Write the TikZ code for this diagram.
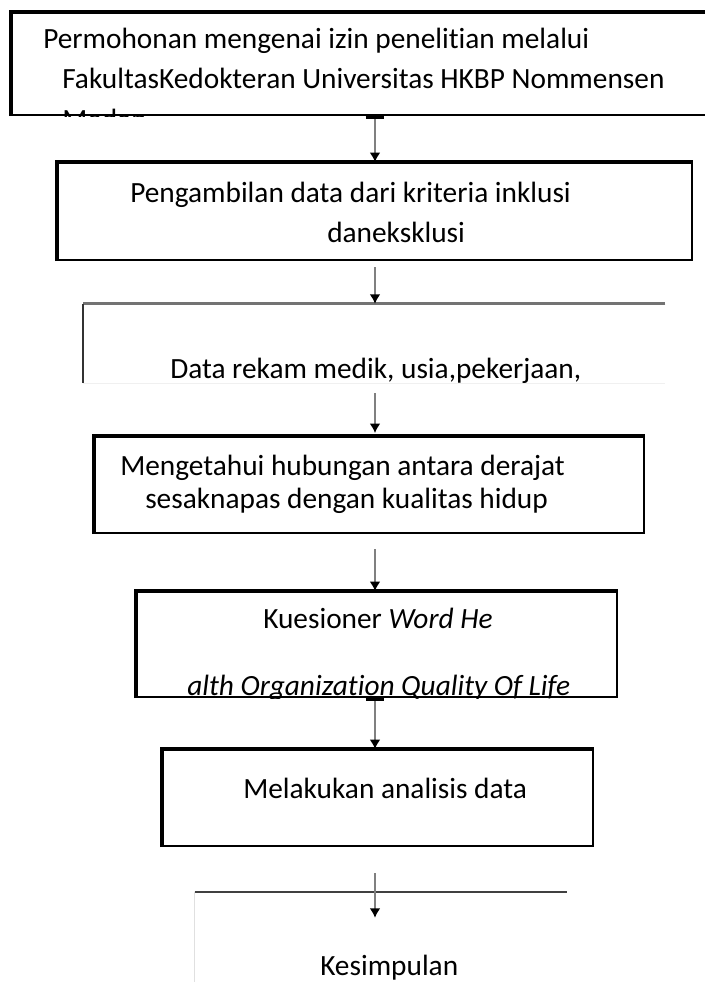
\documentclass[tikz,border=0pt]{standalone}
\usepackage{fontspec}
\setmainfont{Carlito}[Ligatures=NoCommon]
\usetikzlibrary{arrows.meta}
\newdimen\px \px=0.75pt
\tikzset{
    box/.style={draw, line width=1.5pt, inner sep=0pt}, % frame of each step
    heavy/.style={line width=3pt}, % the thick top and left edges
    txt/.style={anchor=base west, inner sep=0pt, font=\fontsize{22}{26}\selectfont}, % text lines
    arrow/.style={draw=black!50, line width=1.2pt, -{Latex[color=black, length=7pt, width=8pt]}}, % connectors
    tail bar/.style={{Bar[color=black, width=14pt, line width=2.5pt]}-{Latex[color=black, length=7pt, width=8pt]}}, % bar at the start
}
\begin{document}
\begin{tikzpicture}[x=\px, y=-\px]
                  \clip (0,0) rectangle (705,982);
                  \node[box, minimum width=708\px, minimum height=102\px] (izin) at (366,64) {};
                  \node[box, minimum width=634\px, minimum height=97\px] (ambil) at (375,211.5) {};
                  \node[inner sep=0pt, minimum width=582\px, minimum height=79\px] (data) at (374,343.5) {};
                  \node[box, minimum width=549\px, minimum height=96\px] (hubungan) at (369.5,485) {};
                  \node[box, minimum width=480\px, minimum height=105\px] (kuesioner) at (377,644.5) {};
                  \node[box, minimum width=430\px, minimum height=96\px] (analisis) at (378,798) {};
                  \node[inner sep=0pt, minimum width=372\px, minimum height=108\px] (simpul) at (381,946) {};
                  \foreach \b in {izin, ambil, hubungan, kuesioner, analisis}
                      \draw[heavy] (\b.south west) -- (\b.north west) -- (\b.north east);
                  \draw[black!55, line width=2.4pt] (data.north east) -- (data.north west);
                  \draw[black!80, line width=1.5pt] (data.north west) -- (data.south west);
                  \draw[black!6, line width=1pt] (data.south west) -- (data.south east);
                  \draw[black!75, line width=1.8pt] (simpul.north west) -- (simpul.north east);
                  \draw[black!12, line width=1pt] (simpul.north west) -- (simpul.south west);
                  \begin{scope}
                      \clip (izin.north west) rectangle (izin.south east);
                      \node[txt] (izin1) at (43,48) {Permohonan mengenai izin penelitian melalui};
                      \node[txt] (izin2) at (62,88) {FakultasKedokteran Universitas HKBP Nommensen};
                      \node[txt] (izin3) at (62,129) {Medan};
                  \end{scope}
                  \node[txt] (ambil1) at (130,202) {Pengambilan data dari kriteria inklusi};
                  \node[txt] (ambil2) at (327,242) {daneksklusi};
                  \begin{scope}
                      \clip (data.north west) rectangle (data.south east);
                      \node[txt] (data1) at (170,378) {Data rekam medik, usia,pekerjaan,};
                  \end{scope}
                  \node[txt] (hubungan1) at (120,475) {Mengetahui hubungan antara derajat};
                  \node[txt] (hubungan2) at (145,508) {sesaknapas dengan kualitas hidup};
                  \begin{scope}
                      \clip (kuesioner.north west) rectangle (kuesioner.south east);
                      \node[txt] (kuesioner1) at (263,628) {Kuesioner \textit{Word He}};
                      \node[txt] (kuesioner2) at (187,695) {\textit{alth Organization Quality Of Life}};
                  \end{scope}
                  \node[txt] (analisis1) at (243,798) {Melakukan analisis data};
                  \node[txt] (simpul1) at (320,975) {Kesimpulan};
                  \draw[arrow, tail bar] (izin.south -| ambil) -- (ambil.north);
                  \draw[arrow, shorten <=6\px] (ambil.south) -- (data.north -| ambil);
                  \draw[arrow, shorten <=10\px, shorten >=3\px] (data.south -| ambil) -- (hubungan.north -| ambil);
                  \draw[arrow, shorten <=15\px] (hubungan.south -| ambil) -- (kuesioner.north -| ambil);
                  \draw[arrow, tail bar] (kuesioner.south -| ambil) -- (analisis.north -| ambil);
                  \draw[arrow, shorten <=26\px, shorten >=-26\px] (analisis.south -| ambil) -- (simpul.north -| ambil);
              \end{tikzpicture}
\end{document}
